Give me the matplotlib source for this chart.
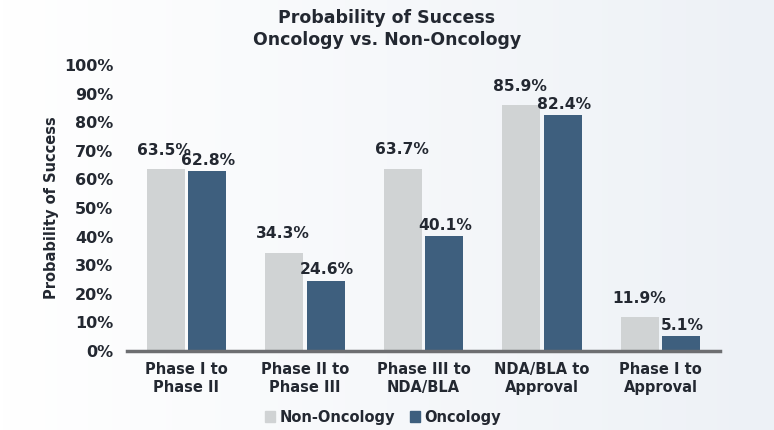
import matplotlib
matplotlib.use("Agg")
import matplotlib.pyplot as plt
import numpy as np
from matplotlib.patches import Patch
from matplotlib.colors import LinearSegmentedColormap

categories = ["Phase I to\nPhase II", "Phase II to\nPhase III", "Phase III to\nNDA/BLA",
              "NDA/BLA to\nApproval", "Phase I to\nApproval"]
non_oncology = [63.5, 34.3, 63.7, 85.9, 11.9]
oncology = [62.8, 24.6, 40.1, 82.4, 5.1]
series_names = ["Non-Oncology", "Oncology"]
yticks = [0, 10, 20, 30, 40, 50, 60, 70, 80, 90, 100]

c_non = "#d0d3d4"
c_onc = "#3e5f7e"
txt = "#232831"

plt.rcParams['font.family'] = ['DejaVu Sans']
fig = plt.figure(figsize=(7.74, 4.30), dpi=100)

# background gradient
bg = fig.add_axes([0, 0, 1, 1], zorder=-10)
grad = np.linspace(0, 1, 256).reshape(1, -1)
cmap = LinearSegmentedColormap.from_list("bg", ["#ffffff", "#edf1f6"])
bg.imshow(grad, aspect='auto', cmap=cmap, extent=[0, 1, 0, 1])
bg.axis('off')

ax = fig.add_axes([127/774, 1-351/430, (720-127)/774, (351-65)/430])
ax.patch.set_alpha(0)
x = np.arange(len(categories))
w = 0.32
off = 0.175
ax.bar(x - off, non_oncology, w, color=c_non, label=series_names[0])
ax.bar(x + off, oncology, w, color=c_onc, label=series_names[1])
for xi, v in zip(x, non_oncology):
    ax.text(xi - off - 0.01, v + 4.0, f"{v:.1f}%", ha='center', va='bottom', fontsize=11.2,
            fontweight='bold', color=txt)
for xi, v in zip(x, oncology):
    ax.text(xi + off + 0.01, v + 1.3, f"{v:.1f}%", ha='center', va='bottom', fontsize=11.2,
            fontweight='bold', color=txt)

ax.set_xlim(-0.5, 4.5)
ax.set_ylim(0, 100)
ax.set_yticks(yticks)
ax.set_yticklabels([f"{t}%" for t in yticks], fontsize=11.5, fontweight='bold', color=txt)
ax.set_xticks(x)
ax.set_xticklabels(categories, fontsize=10.5, fontweight='bold', color=txt)
ax.tick_params(axis='both', length=0)
ax.tick_params(axis='y', pad=10)
ax.tick_params(axis='x', pad=8)
for s in ['top', 'right', 'left']:
    ax.spines[s].set_visible(False)
ax.spines['bottom'].set_color('#6d6e71')
ax.spines['bottom'].set_linewidth(2.5)
ax.set_ylabel("Probability of Success", fontsize=10.5, fontweight='bold', color=txt)
ax.yaxis.set_label_coords((59 - 127) / 593, 0.5)

fig.text(0.5, 0.957, "Probability of Success", ha='center', va='center', fontsize=12.5,
         fontweight='bold', color=txt)
fig.text(0.5, 0.908, "Oncology vs. Non-Oncology", ha='center', va='center', fontsize=12.5,
         fontweight='bold', color=txt)

handles = [Patch(color=c_non), Patch(color=c_onc)]
fig.legend(handles, series_names, loc='center', bbox_to_anchor=(0.495, 0.03), ncol=2,
           frameon=False, prop={'weight': 'bold', 'size': 10.5}, handlelength=0.7,
           handleheight=0.7, handletextpad=0.3, columnspacing=1.0, labelcolor=txt)

fig.savefig("out.png", dpi=100)
